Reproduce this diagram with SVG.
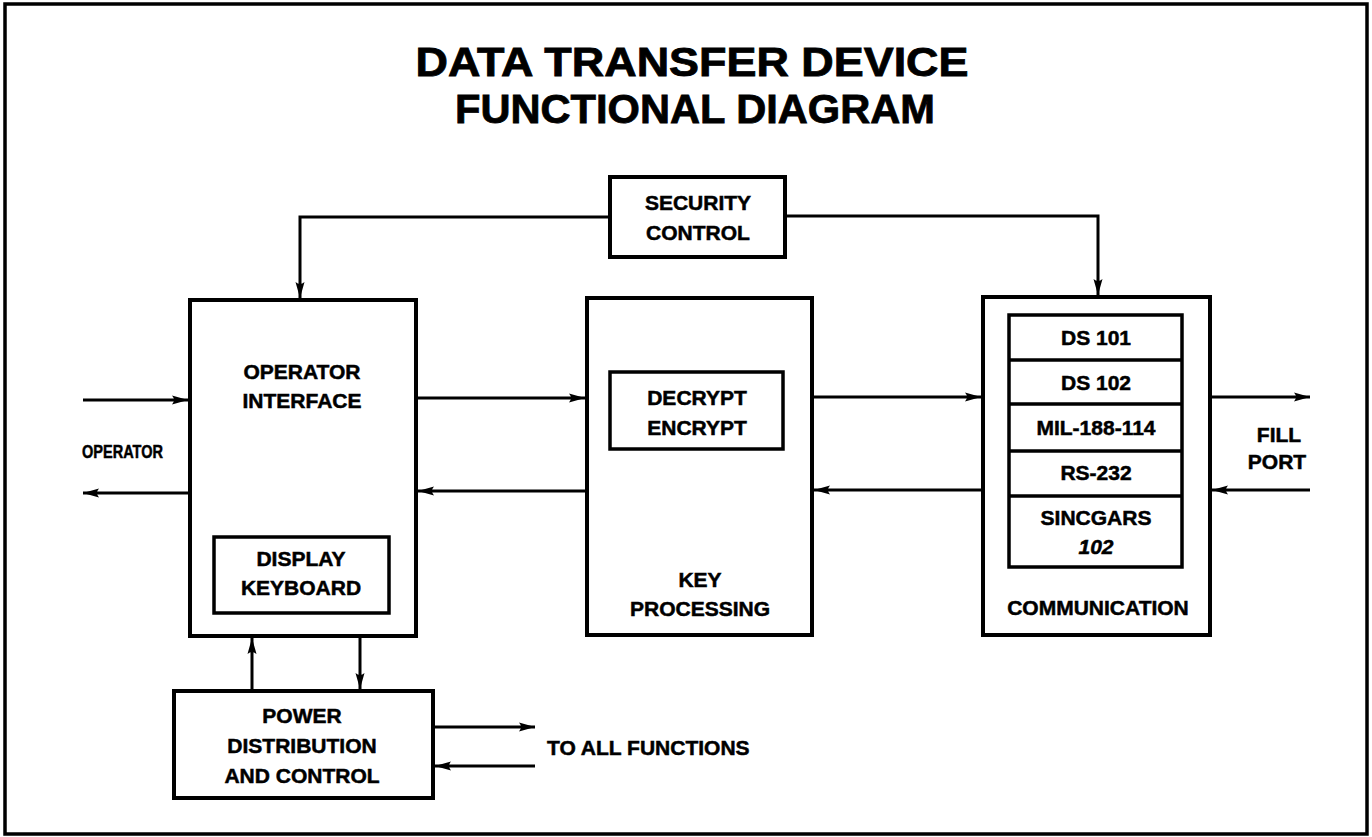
<svg xmlns="http://www.w3.org/2000/svg" width="1372" height="837" viewBox="0 0 1372 837">
<defs>
<style>
.box{fill:none;stroke:#000;stroke-width:4}
.inner{fill:none;stroke:#000;stroke-width:3.5}
.ln{fill:none;stroke:#000;stroke-width:3}
text{font-family:"Liberation Sans",Arial,Helvetica,sans-serif;font-weight:bold;fill:#000;stroke:#000;stroke-width:0.5}
.lbl{font-size:21px;text-anchor:middle}
.title{font-size:40px;text-anchor:middle;stroke-width:0.8}
</style>
<marker id="ah" markerUnits="userSpaceOnUse" markerWidth="18" markerHeight="14" refX="16" refY="7" orient="auto">
<path d="M0,2.5 Q4,7 0,11.5 L16,7 Z" fill="#000"/>
</marker>
</defs>
<rect x="0" y="0" width="1372" height="837" fill="#fff"/>
<rect id="frame" x="5" y="4" width="1362" height="830" fill="none" stroke="#000" stroke-width="3.5"/>
<g id="title">
<text class="title" x="692" y="76" textLength="553" lengthAdjust="spacingAndGlyphs">DATA TRANSFER DEVICE</text>
<text class="title" x="695" y="123" textLength="480" lengthAdjust="spacingAndGlyphs">FUNCTIONAL DIAGRAM</text>
</g>
<g id="security-control">
<rect class="box" x="610" y="177" width="175" height="80"/>
<text class="lbl" x="698" y="210">SECURITY</text>
<text class="lbl" x="698" y="240">CONTROL</text>
</g>
<g id="operator-interface">
<rect class="box" x="190" y="300" width="226" height="336"/>
<text class="lbl" x="302" y="379">OPERATOR</text>
<text class="lbl" x="302" y="408">INTERFACE</text>
</g>
<g id="display-keyboard">
<rect class="inner" x="214" y="537" width="175" height="76"/>
<text class="lbl" x="301" y="566">DISPLAY</text>
<text class="lbl" x="301" y="595">KEYBOARD</text>
</g>
<g id="key-processing">
<rect class="box" x="587" y="298" width="225" height="337"/>
<text class="lbl" x="700" y="587">KEY</text>
<text class="lbl" x="700" y="616">PROCESSING</text>
</g>
<g id="decrypt-encrypt">
<rect class="inner" x="610" y="372" width="173" height="77"/>
<text class="lbl" x="697" y="405">DECRYPT</text>
<text class="lbl" x="697" y="435">ENCRYPT</text>
</g>
<g id="communication">
<rect class="box" x="983" y="297" width="227" height="338"/>
<text class="lbl" x="1098" y="615">COMMUNICATION</text>
</g>
<g id="protocols">
<rect class="inner" x="1009" y="315" width="173" height="252"/>
<line class="inner" x1="1009" y1="360" x2="1182" y2="360"/>
<line class="inner" x1="1009" y1="404" x2="1182" y2="404"/>
<line class="inner" x1="1009" y1="451" x2="1182" y2="451"/>
<line class="inner" x1="1009" y1="496" x2="1182" y2="496"/>
<text class="lbl" x="1096" y="345">DS 101</text>
<text class="lbl" x="1096" y="390">DS 102</text>
<text class="lbl" x="1096" y="435">MIL-188-114</text>
<text class="lbl" x="1096" y="480">RS-232</text>
<text class="lbl" x="1096" y="525">SINCGARS</text>
<text class="lbl" x="1096" y="554" font-style="italic">102</text>
</g>
<g id="power-distribution">
<rect class="box" x="174" y="691" width="259" height="107"/>
<text class="lbl" x="302" y="723">POWER</text>
<text class="lbl" x="302" y="753">DISTRIBUTION</text>
<text class="lbl" x="302" y="783">AND CONTROL</text>
</g>
<g id="labels">
<text x="82" y="458" font-size="19" textLength="81" lengthAdjust="spacingAndGlyphs">OPERATOR</text>
<text class="lbl" x="1279" y="442" font-size="20">FILL</text>
<text class="lbl" x="1277" y="469" font-size="20">PORT</text>
<text x="547" y="755" font-size="21">TO ALL FUNCTIONS</text>
</g>
<g id="connectors">
<path class="ln" d="M610,217 H300 V298" marker-end="url(#ah)"/>
<path class="ln" d="M785,216 H1098 V295" marker-end="url(#ah)"/>
<line class="ln" x1="83" y1="400" x2="188" y2="400" marker-end="url(#ah)"/>
<line class="ln" x1="190" y1="493" x2="83" y2="493" marker-end="url(#ah)"/>
<line class="ln" x1="416" y1="398" x2="585" y2="398" marker-end="url(#ah)"/>
<line class="ln" x1="587" y1="491" x2="418" y2="491" marker-end="url(#ah)"/>
<line class="ln" x1="812" y1="397" x2="981" y2="397" marker-end="url(#ah)"/>
<line class="ln" x1="983" y1="490" x2="814" y2="490" marker-end="url(#ah)"/>
<line class="ln" x1="1210" y1="397" x2="1310" y2="397" marker-end="url(#ah)"/>
<line class="ln" x1="1310" y1="490" x2="1212" y2="490" marker-end="url(#ah)"/>
<line class="ln" x1="252" y1="691" x2="252" y2="638" marker-end="url(#ah)"/>
<line class="ln" x1="360" y1="636" x2="360" y2="689" marker-end="url(#ah)"/>
<line class="ln" x1="433" y1="727" x2="535" y2="727" marker-end="url(#ah)"/>
<line class="ln" x1="535" y1="766" x2="435" y2="766" marker-end="url(#ah)"/>
</g>
</svg>
